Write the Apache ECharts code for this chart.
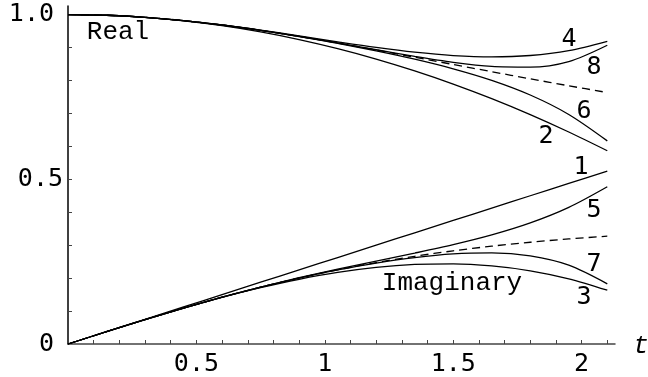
<!DOCTYPE html>
<html>
<head>
<meta charset="utf-8">
<script src="https://cdn.jsdelivr.net/npm/echarts@6/dist/echarts.min.js"></script>
<style>
  html, body { margin: 0; padding: 0; background: #fff; }
  #chart { width: 648px; height: 377px; }
</style>
</head>
<body>
<div id="chart"></div>
<script>
// sample points along t
var tValues = [0, 0.15, 0.3, 0.45, 0.6, 0.75, 0.9, 1.05, 1.2, 1.35, 1.5, 1.65, 1.8, 1.95, 2.1];

// real part, approximations of order 2,4,6,8 and exact (dashed)
var real2 = [1, 0.9979, 0.9916, 0.9810, 0.9663, 0.9473, 0.9241, 0.8966, 0.8650, 0.8291, 0.7891, 0.7448, 0.6963, 0.6435, 0.5866];
var real4 = [1, 0.9979, 0.9917, 0.9817, 0.9685, 0.9527, 0.9353, 0.9174, 0.9004, 0.8859, 0.8756, 0.8714, 0.8757, 0.8906, 0.9189];
var real6 = [1, 0.9979, 0.9917, 0.9817, 0.9683, 0.9521, 0.9334, 0.9127, 0.8899, 0.8646, 0.8354, 0.8003, 0.7558, 0.6968, 0.6166];
var real8 = [1, 0.9979, 0.9917, 0.9817, 0.9683, 0.9521, 0.9337, 0.9138, 0.8932, 0.8730, 0.8551, 0.8425, 0.8403, 0.8572, 0.9068];
var realExact = [1, 0.9979, 0.9917, 0.9817, 0.9683, 0.9521, 0.9337, 0.9136, 0.8924, 0.8706, 0.8485, 0.8266, 0.8049, 0.7838, 0.7633];

// imaginary part, orders 1,3,5,7 and exact (dashed)
var imag1 = [0, 0.0375, 0.075, 0.1125, 0.15, 0.1875, 0.225, 0.2625, 0.3, 0.3375, 0.375, 0.4125, 0.45, 0.4875, 0.525];
var imag3 = [0, 0.0374, 0.0740, 0.1089, 0.1416, 0.1710, 0.1965, 0.2173, 0.2325, 0.2414, 0.2432, 0.2370, 0.2222, 0.1979, 0.1632];
var imag5 = [0, 0.0374, 0.0740, 0.1091, 0.1422, 0.1729, 0.2011, 0.2271, 0.2516, 0.2759, 0.3016, 0.3311, 0.3675, 0.4147, 0.4773];
var imag7 = [0, 0.0374, 0.0740, 0.1091, 0.1421, 0.1726, 0.2003, 0.2248, 0.2458, 0.2625, 0.2736, 0.2766, 0.2673, 0.2392, 0.1826];
var imagExact = [0, 0.0374, 0.0740, 0.1091, 0.1421, 0.1727, 0.2004, 0.2252, 0.2472, 0.2663, 0.2828, 0.2970, 0.3089, 0.3189, 0.3272];

// ticks and tick labels
var xTickValues = [0.1, 0.2, 0.3, 0.4, 0.5, 0.6, 0.7, 0.8, 0.9, 1, 1.1, 1.2, 1.3, 1.4, 1.5, 1.6, 1.7, 1.8, 1.9, 2, 2.1];
var xLabelValues = [0.5, 1, 1.5, 2];
var xLabelTexts = ['0.5', '1', '1.5', '2'];
var yTickValues = [0.1, 0.2, 0.3, 0.4, 0.5, 0.6, 0.7, 0.8, 0.9, 1];
var yLabelValues = [0, 0.5, 1];
var yLabelTexts = ['0', '0.5', '1.0'];

function pairs(ys) {
    return tValues.map(function (t, i) { return [t, ys[i]]; });
}

function curve(name, ys, dashed) {
    return {
        name: name,
        type: 'line',
        data: pairs(ys),
        smooth: 0.3,
        symbol: 'none',
        silent: true,
        lineStyle: { color: '#000', width: 1.3, type: dashed ? [8, 5] : 'solid' }
    };
}

var monoDigits = '"DejaVu Sans Mono", monospace';
var monoWords = '"Liberation Mono", "Courier New", monospace';

function txt(s, x, y, font) {
    return {
        type: 'text',
        x: x, y: y,
        silent: true,
        style: {
            text: s, fill: '#000',
            font: font || ('25px ' + monoDigits),
            align: 'center', verticalAlign: 'middle',
            textAlign: 'center', textVerticalAlign: 'middle'
        }
    };
}

var myChart = echarts.init(document.getElementById('chart'));
var option = {
    animation: false,
    backgroundColor: '#fff',
    grid: { left: 68, top: 6, width: 547, bottom: 33 },
    xAxis: {
        type: 'value',
        min: 0,
        max: 2.13,
        axisLine: { show: true, lineStyle: { color: '#444', width: 1.5 } },
        axisTick: { show: true, inside: true, length: 4, customValues: xTickValues,
                    lineStyle: { color: '#444', width: 1 } },
        axisLabel: {
            customValues: xLabelValues,
            margin: 8,
            color: '#000',
            fontFamily: monoDigits,
            fontSize: 25,
            formatter: function (v) {
                var i = xLabelValues.indexOf(v);
                return i < 0 ? '' : xLabelTexts[i];
            }
        },
        splitLine: { show: false }
    },
    yAxis: {
        type: 'value',
        min: 0,
        max: 1.026,
        axisLine: { show: true, lineStyle: { color: '#000', width: 1.5 } },
        axisTick: { show: true, inside: true, length: 4, customValues: yTickValues,
                    lineStyle: { color: '#444', width: 1 } },
        axisLabel: {
            customValues: yLabelValues,
            margin: 5,
            color: '#000',
            fontFamily: monoDigits,
            fontSize: 25,
            formatter: function (v) {
                var i = yLabelValues.indexOf(v);
                if (i < 0) return '';
                return yLabelTexts[i] === '0.5' ? '{b|0.5}' : '{a|' + yLabelTexts[i] + '}';
            },
            rich: {
                a: { fontFamily: monoDigits, fontSize: 25, color: '#000', padding: [0, 9, 0, 0] },
                b: { fontFamily: monoDigits, fontSize: 25, color: '#000' }
            }
        },
        splitLine: { show: false }
    },
    series: [
        curve('2', real2),
        curve('4', real4),
        curve('6', real6),
        curve('8', real8),
        curve('real', realExact, true),
        curve('1', imag1),
        curve('3', imag3),
        curve('5', imag5),
        curve('7', imag7),
        curve('imag', imagExact, true)
    ],
    graphic: [
        txt('Real', 118, 32, '26px ' + monoWords),
        txt('Imaginary', 452, 283, '26px ' + monoWords),
        txt('t', 641, 346, 'italic 26px ' + monoWords),
        txt('4', 569, 39),
        txt('8', 594, 67),
        txt('6', 584, 111),
        txt('2', 546, 136),
        txt('1', 581, 167),
        txt('5', 594, 210),
        txt('7', 594, 264),
        txt('3', 584, 297)
    ]
};
myChart.setOption(option);
</script>
</body>
</html>
